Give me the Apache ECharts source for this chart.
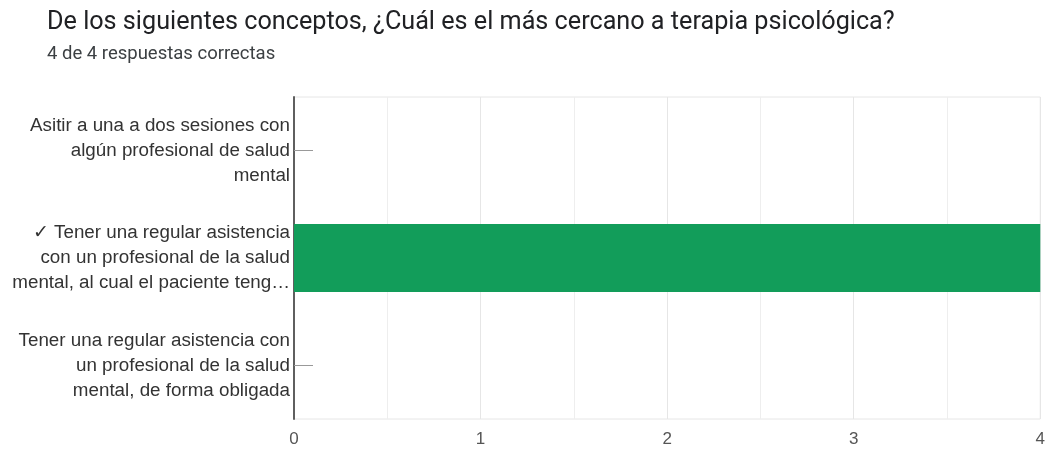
<!DOCTYPE html>
<html><head><meta charset="utf-8">
<script src="https://cdn.jsdelivr.net/npm/echarts@6/dist/echarts.min.js"></script>
<style>html,body{margin:0;padding:0;background:#fff}#c{width:1048px;height:450px}</style>
</head><body><div id="c"></div>
<script>
const titleText = 'De los siguientes conceptos, ¿Cuál es el más cercano a terapia psicológica?';
const subtitleText = '4 de 4 respuestas correctas';
const categories = [
  'Asitir a una a dos sesiones con\nalgún profesional de salud\nmental',
  '✓ Tener una regular asistencia\ncon un profesional de la salud\nmental, al cual el paciente teng…',
  'Tener una regular asistencia con\nun profesional de la salud\nmental, de forma obligada'
];
const counts = [0, 4, 0];
const xTicks = [0, 1, 2, 3, 4];

const chart = echarts.init(document.getElementById('c'), null, {renderer: 'canvas'});
chart.setOption({
  animation: false,
  title: {
    text: titleText, subtext: subtitleText, left: 42, top: 5, itemGap: 10,
    textStyle: {fontFamily: 'Roboto', fontSize: 25.2, fontWeight: 'normal', color: '#202124'},
    subtextStyle: {fontFamily: 'Roboto', fontSize: 18.5, color: '#3c4043'}
  },
  grid: {left: 294, right: 6, top: 97, bottom: 31, show: true, borderColor: '#e6e6e6', borderWidth: 1},
  xAxis: {
    type: 'value', min: xTicks[0], max: xTicks[xTicks.length - 1], interval: 1,
    axisLine: {show: false}, axisTick: {show: false},
    axisLabel: {fontFamily: 'Liberation Sans', fontSize: 17, color: '#555', margin: 12},
    splitLine: {lineStyle: {color: '#e6e6e6'}},
    minorTick: {show: false, splitNumber: 2},
    minorSplitLine: {show: true, lineStyle: {color: '#eeeeee'}}
  },
  yAxis: {
    type: 'category', data: categories, inverse: true,
    axisLine: {lineStyle: {color: '#5f5f5f', width: 2}},
    axisTick: {show: true, alignWithLabel: true, inside: true, length: 19, lineStyle: {color: '#999'}},
    axisLabel: {fontFamily: 'Liberation Sans', fontSize: 18.8, color: '#333', lineHeight: 25, margin: 4, align: 'right', verticalAlign: 'middle', padding: [6, 0, 0, 0]}
  },
  series: [{
    type: 'bar', data: counts, barWidth: 68,
    itemStyle: {color: '#129d5a'}
  }]
});
</script></body></html>
